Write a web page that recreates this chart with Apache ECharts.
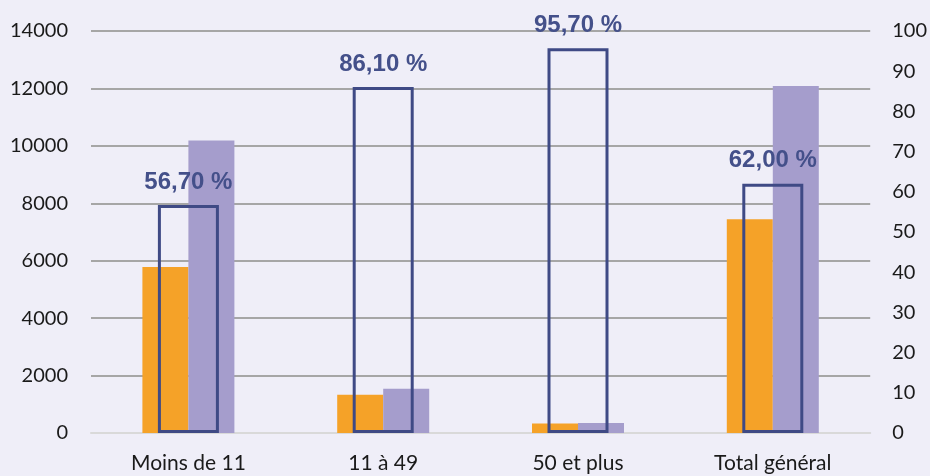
<!DOCTYPE html>
<html>
<head>
<meta charset="utf-8">
<script src="https://cdn.jsdelivr.net/npm/echarts@6/dist/echarts.min.js"></script>
<style>
  html, body { margin: 0; padding: 0; background: #EFEEF8; }
  #chart { width: 930px; height: 476px; }
</style>
</head>
<body>
<div id="chart"></div>
<script>
// Size classes of establishments
const categories = ['Moins de 11', '11 à 49', '50 et plus', 'Total général'];
// Left-axis counts
const seriesOrange = [5780, 1330, 335, 7445];
const seriesPurple = [10190, 1545, 350, 12085];
// Right-axis share, in percent
const sharePct = [56.7, 86.1, 95.7, 62.0];

const chart = echarts.init(document.getElementById('chart'), null, { renderer: 'canvas' });

const axisFont = { fontFamily: 'Lato, "Open Sans", sans-serif', fontSize: 20, color: '#1a1a1a' };

chart.setOption({
  backgroundColor: '#EFEEF8',
  animation: false,
  grid: { left: 91, right: 59, top: 31, bottom: 43 },
  xAxis: [
    {
      type: 'category',
      data: categories,
      axisTick: { show: false },
      axisLine: { show: true, lineStyle: { color: '#D9D9D9', width: 2 } },
      axisLabel: Object.assign({ margin: 20 }, axisFont, { fontSize: 21 })
    },
    {
      type: 'category',
      data: categories,
      show: false
    }
  ],
  yAxis: [
    {
      type: 'value',
      min: 0, max: 14000, interval: 2000,
      axisLine: { show: false },
      axisTick: { show: false },
      splitLine: { lineStyle: { color: '#A6A6A6', width: 2 } },
      axisLabel: Object.assign({ margin: 23, formatter: v => String(v) }, axisFont)
    },
    {
      type: 'value',
      min: 0, max: 100, interval: 10,
      axisLine: { show: false },
      axisTick: { show: false },
      splitLine: { show: false },
      axisLabel: Object.assign({ margin: 22 }, axisFont)
    }
  ],
  series: [
    {
      type: 'bar',
      data: seriesOrange,
      xAxisIndex: 0, yAxisIndex: 0,
      barWidth: 46,
      barGap: '0%',
      itemStyle: { color: '#F5A228' }
    },
    {
      type: 'bar',
      data: seriesPurple,
      xAxisIndex: 0, yAxisIndex: 0,
      barWidth: 46,
      barGap: '0%',
      itemStyle: { color: '#A59DCC' }
    },
    {
      type: 'bar',
      data: sharePct,
      xAxisIndex: 1, yAxisIndex: 1,
      barWidth: 61,
      z: 5,
      itemStyle: { color: 'rgba(0,0,0,0)', borderColor: '#3F4A85', borderWidth: 3 },
      label: {
        show: true,
        position: 'top',
        distance: 11,
        formatter: p => p.value.toFixed(2).replace('.', ',') + ' %',
        fontFamily: '"Liberation Sans Narrow", "Liberation Sans", Arial, sans-serif',
        fontWeight: 'bold',
        fontSize: 24,
        color: '#44508A'
      }
    }
  ]
});
</script>
</body>
</html>
